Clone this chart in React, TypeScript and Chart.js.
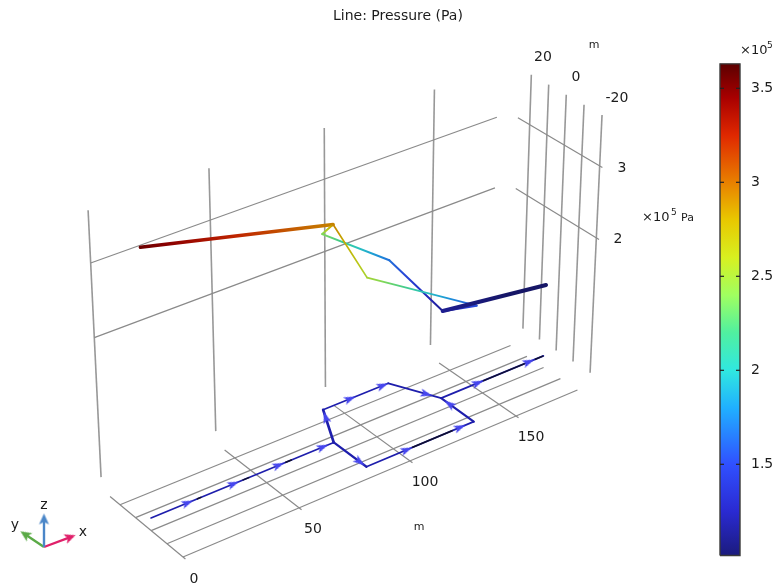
import React, { useEffect, useRef } from "react";
import { Chart, registerables } from "chart.js";

Chart.register(...registerables);

// ---- network nodes: position in metres, pressure in 1e5 Pa
const nodeNames = ["A", "B", "C", "D", "E", "F", "G", "H"];
const nodeX = [4.3, 85, 95, 125.7, 135.3, 85, 135, 185.3];
const nodeY = [6.5, 6.5, 26.7, 26.7, 6.5, -13.5, -13.5, 6.5];
const nodeP = [3.55, 2.93, 2.38, 1.66, 1.14, 2.52, 1.54, 0.92];
const pipes = ["AB", "BC", "CD", "DE", "BF", "FG", "GE", "EH"];
const pipeWidths = [3.6, 2, 2, 2, 1.7, 1.7, 2.4, 4];
const floorWidths = [1.7, 2.6, 1.7, 1.9, 2.2, 1.7, 2.2, 1.7];

// ---- flow arrows on the floor projection
const arrowX = [20, 40, 60, 80, 92.7, 107.6, 123, 132.6, 135.2, 85, 103.5, 128.5, 153, 178];
const arrowY = [6.5, 6.5, 6.5, 6.5, 22, 26.7, 26.7, 12, 1.4, -9.5, -13.5, -13.5, 6.5, 6.5];
const arrowDirX = [1, 1, 1, 1, 10, 1, 1, 9.6, 0, 0, 1, 1, 1, 1];
const arrowDirY = [0, 0, 0, 0, 20, 0, 0, -20, 20, -20, 0, 0, 0, 0];

// ---- stretches of the floor line that read as black
const blackFromX = [24, 44, 63, 106, 155.5, 181];
const blackToX = [26, 47, 66, 125, 176, 185.3];
const blackY = [6.5, 6.5, 6.5, -13.5, 6.5, 6.5];

// ---- axes
const floorXTicks = [0, 50, 100, 150];
const floorYTicks = [20, 10, 0, -10, -20];
const wallZTicks = [2, 3];
const xLabels = ["0", "50", "100", "150"];
const yLabels = ["20", "0", "-20"];
const zLabels = ["3", "2"];
const barTicks = [3.5, 3, 2.5, 2, 1.5];
const barTickLabels = ["3.5", "3", "2.5", "2", "1.5"];

// ---- colour table
const colorP = [1.0, 1.25, 1.5, 1.8, 2.0, 2.2, 2.4, 2.6, 2.8, 3.0, 3.25, 3.45, 3.63];
const colorHex = ["#1a1a78", "#2a2ad2", "#3050ff", "#20b0ff", "#30e8e0", "#50f0a0", "#a0ff60", "#d8f020", "#e8c800", "#e88000", "#e02800", "#a80000", "#5c0000"];

// ---- camera fitted to the box (world metres and 1e5 Pa to screen)
const FLOOR_Z = -0.13;
const BOX = { xMax: 186, yBack: 32, zLow: 0.05, zHigh: 3.69, xStart: 0, xEnd: 180, yLow: -21.5, yHigh: 26.5 };
function project(x: number, y: number, z: number) {
  const u = x / 150, v = (y + 20) / 40, w = z - FLOOR_Z;
  const den = 0.07023 * u + 0.02446 * v + 1 - 0.01407 * w;
  return {
    x: (369.24 * u - 60.06 * v + 183 - 4.91 * w) / den,
    y: (-111.78 * u - 39.85 * v + 557 - 78.4 * w) / den,
  };
}

const hexRgb = (h: string) => [1, 3, 5].map((i) => parseInt(h.slice(i, i + 2), 16));
function colorAt(p: number, shade = 1) {
  const c = Math.max(colorP[0], Math.min(colorP[colorP.length - 1], p));
  let i = 0;
  while (i < colorP.length - 2 && c > colorP[i + 1]) i++;
  const t = (c - colorP[i]) / (colorP[i + 1] - colorP[i]);
  const a = hexRgb(colorHex[i]), b = hexRgb(colorHex[i + 1]);
  return `rgb(${a.map((v, k) => Math.round((v + (b[k] - v) * t) * shade)).join(",")})`;
}

function arrowImage(color: string, len: number, wid: number) {
  const s = Math.ceil(Math.max(len, wid)) + 2;
  const cv = document.createElement("canvas");
  cv.width = s; cv.height = s;
  const c = cv.getContext("2d")!;
  const m = s / 2;
  c.fillStyle = color;
  c.beginPath();
  c.moveTo(m, m - len / 2);
  c.lineTo(m + wid / 2, m + len / 2);
  c.lineTo(m, m + len / 2 - len * 0.22);
  c.lineTo(m - wid / 2, m + len / 2);
  c.closePath();
  c.fill();
  return cv;
}

const GRID = "#8a8a8a";
const GRID_V = "#989898";
const TEXT = "#1c1c1c";
const FONT = '"DejaVu Sans"';

type T = [string, number, number, number, CanvasTextAlign?];
const texts: T[] = [
  ["Line: Pressure (Pa)", 333, 16, 14, "left"],
  ["m", 594, 45, 11],
  ["m", 419, 527, 11],
  [xLabels[0], 194, 579, 14],
  [xLabels[1], 313, 529, 14],
  [xLabels[2], 425, 482, 14],
  [xLabels[3], 531, 437, 14],
  [yLabels[0], 543, 57, 14],
  [yLabels[1], 576, 77, 14],
  [yLabels[2], 617, 98, 14],
  [zLabels[0], 622, 168, 14],
  [zLabels[1], 618, 239, 14],
  ["×10", 642, 218, 13, "left"],
  ["5", 671, 213, 9, "left"],
  ["Pa", 681, 218, 11, "left"],
  ["×10", 740, 51, 13, "left"],
  ["5", 767, 46, 9, "left"],
  ["z", 44, 505, 14],
  ["x", 83, 532, 14],
  ["y", 15, 525, 14],
];

export default function App() {
  const ref = useRef<HTMLCanvasElement>(null);
  useEffect(() => {
    const canvas = ref.current!;
    const g2d = canvas.getContext("2d")!;
    const PX_PER_P = 188, Y_35 = 88.3;
    const P_AT_0 = 3.5 + Y_35 / PX_PER_P;
    const P_AT_H = 3.5 - (585 - Y_35) / PX_PER_P;
    const pPixel = (p: number) => Y_35 + (3.5 - p) * PX_PER_P;
    const barMin = 1.015, barMax = 3.63;
    const sets: any[] = [];
    const line = (pts: { x: number; y: number }[], color: any, width: number, extra: any = {}) =>
      sets.push({ data: pts, showLine: true, pointRadius: 0, borderColor: color, borderWidth: width, tension: 0, fill: false, ...extra });

    // floor grid
    for (const x of floorXTicks) line([project(x, BOX.yLow, FLOOR_Z), project(x, BOX.yHigh, FLOOR_Z)], GRID, 1.2);
    for (const y of floorYTicks) line([project(BOX.xStart, y, FLOOR_Z), project(BOX.xEnd, y, FLOOR_Z)], GRID, 1.2);
    // back wall
    for (const x of floorXTicks) line([project(x, BOX.yBack, BOX.zLow), project(x, BOX.yBack, BOX.zHigh)], GRID_V, 1.6);
    for (const z of wallZTicks) line([project(BOX.xStart, BOX.yBack, z), project(BOX.xEnd, BOX.yBack, z)], GRID, 1.2);
    // side wall
    for (const y of floorYTicks) line([project(BOX.xMax, y, BOX.zLow), project(BOX.xMax, y, BOX.zHigh)], GRID_V, 1.6);
    for (const z of wallZTicks) line([project(BOX.xMax, BOX.yLow, z), project(BOX.xMax, BOX.yHigh + 0.4, z)], GRID, 1.2);

    // network on floor and at pressure height
    pipes.forEach((pipe, i) => {
      const a = nodeNames.indexOf(pipe[0]), b = nodeNames.indexOf(pipe[1]);
      line([project(nodeX[a], nodeY[a], FLOOR_Z), project(nodeX[b], nodeY[b], FLOOR_Z)], "#1e1eac", floorWidths[i], { borderCapStyle: "round" });
    });
    blackFromX.forEach((x0, i) => {
      line([project(x0, blackY[i], FLOOR_Z), project(blackToX[i], blackY[i], FLOOR_Z)], "#10102c", 1.5);
    });
    pipes.forEach((pipe, i) => {
      const a = nodeNames.indexOf(pipe[0]), b = nodeNames.indexOf(pipe[1]);
      const p0 = project(nodeX[a], nodeY[a], nodeP[a]), p1 = project(nodeX[b], nodeY[b], nodeP[b]);
      const g = g2d.createLinearGradient(p0.x, p0.y, p1.x, p1.y);
      for (let k = 0; k <= 8; k++) g.addColorStop(k / 8, colorAt(nodeP[a] + ((nodeP[b] - nodeP[a]) * k) / 8, 0.85));
      line([p0, p1], g, pipeWidths[i], { borderCapStyle: "round", borderJoinStyle: "round" });
    });

    // flow arrows
    const arrowImg = arrowImage("#4646ee", 12, 8);
    const arrowPts = arrowX.map((x, i) => project(x, arrowY[i], FLOOR_Z));
    const arrowRot = arrowX.map((x, i) => {
      const q = project(x + arrowDirX[i] * 0.2, arrowY[i] + arrowDirY[i] * 0.2, FLOOR_Z);
      return (Math.atan2(q.x - arrowPts[i].x, -(q.y - arrowPts[i].y)) * 180) / Math.PI;
    });
    sets.push({ data: arrowPts, showLine: false, pointStyle: arrowImg, pointRadius: 7, pointRotation: arrowRot });

    // orientation triad
    const triadColors = ["#e0206a", "#5aaa46", "#4a86c8"];
    const triadTips = [{ x: 76, y: 535 }, { x: 20, y: 531 }, { x: 44, y: 513 }];
    const triadOrigin = { x: 44, y: 547 };
    triadTips.forEach((tip, i) => {
      const d = Math.hypot(tip.x - triadOrigin.x, tip.y - triadOrigin.y);
      const ux = (tip.x - triadOrigin.x) / d, uy = (tip.y - triadOrigin.y) / d;
      const neck = { x: tip.x - ux * 6, y: tip.y - uy * 6 };
      line([triadOrigin, neck], triadColors[i], 2.4);
      sets.push({
        data: [neck], showLine: false,
        pointStyle: arrowImage(triadColors[i], 11, 10), pointRadius: 6,
        pointRotation: (Math.atan2(ux, -uy) * 180) / Math.PI,
      });
    });

    // colour bar on its own pressure scale
    const bar = { yAxisID: "p" };
    const barG = g2d.createLinearGradient(0, pPixel(barMin), 0, pPixel(barMax));
    barG.addColorStop(0, colorAt(barMin));
    colorP.forEach((p, i) => {
      const t = (p - barMin) / (barMax - barMin);
      if (t > 0 && t <= 1) barG.addColorStop(t, colorHex[i]);
    });
    line([{ x: 730, y: barMin }, { x: 730, y: barMax }], barG, 20, { ...bar, borderCapStyle: "butt" });
    line([
      { x: 720, y: barMin }, { x: 740, y: barMin }, { x: 740, y: barMax }, { x: 720, y: barMax }, { x: 720, y: barMin },
    ], "#3a3a3a", 1.4, bar);
    for (const t of barTicks) {
      line([{ x: 720, y: t }, { x: 724, y: t }], "#222222", 1.2, bar);
      line([{ x: 736, y: t }, { x: 740, y: t }], "#222222", 1.2, bar);
    }

    sets.forEach((s, i) => { s.order = -i; });

    const labels = {
      id: "labels",
      afterDatasetsDraw(ch: any) {
        const c = ch.ctx;
        c.save();
        c.fillStyle = TEXT;
        c.textBaseline = "middle";
        for (const [s, x, y, size, align] of texts) {
          c.font = `${size}px ${FONT}`;
          c.textAlign = align ?? "center";
          c.fillText(s, x, y);
        }
        c.font = `14px ${FONT}`;
        c.textAlign = "left";
        barTicks.forEach((t, i) => c.fillText(barTickLabels[i], 751, ch.scales.p.getPixelForValue(t)));
        c.restore();
      },
    };

    const chart = new Chart(canvas, {
      type: "scatter",
      data: { datasets: sets },
      plugins: [labels],
      options: {
        responsive: false,
        animation: false,
        events: [],
        layout: { padding: 0, autoPadding: false },
        plugins: { legend: { display: false }, tooltip: { enabled: false }, title: { display: false } },
        scales: {
          x: { type: "linear", min: 0, max: 774, display: false },
          y: { type: "linear", min: 0, max: 585, reverse: true, display: false },
          p: { type: "linear", min: P_AT_H, max: P_AT_0, display: false },
        },
      },
    } as any);
    return () => chart.destroy();
  }, []);
  return (
    <div style={{ position: "fixed", left: 0, top: 0, width: 774, height: 585, background: "#fff" }}>
      <canvas ref={ref} width={774} height={585} style={{ display: "block" }} />
    </div>
  );
}
